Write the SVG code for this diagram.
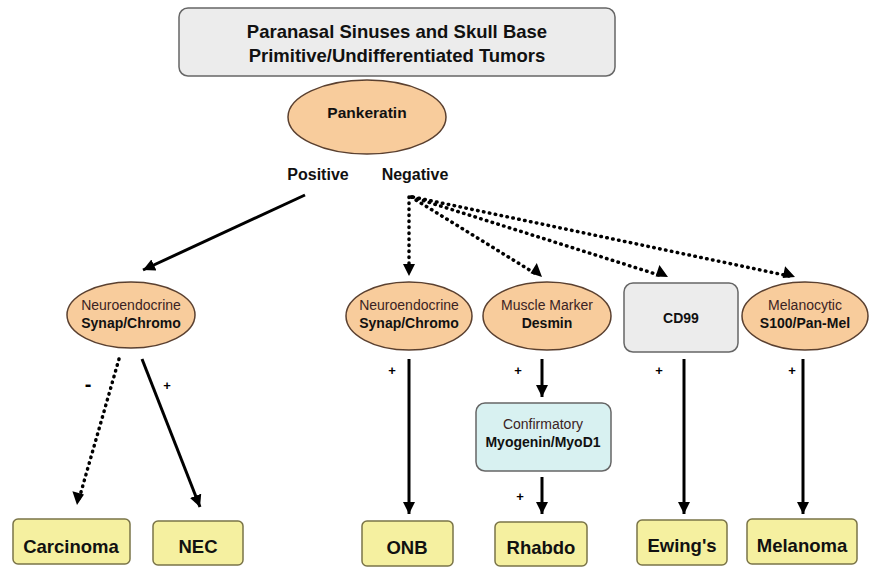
<svg xmlns="http://www.w3.org/2000/svg" width="871" height="567" viewBox="0 0 871 567">
<style>
text{font-family:"Liberation Sans",Arial,sans-serif;text-anchor:middle}
.b{font-weight:bold;fill:#111}
.r{fill:#3b2323}
.ell{fill:#f8cc9c;stroke:#5a4030;stroke-width:1.5}
.grey{fill:#ececec;stroke:#666;stroke-width:1.5}
.yel{fill:#f5f0a0;stroke:#7a7448;stroke-width:1.5}
.cy{fill:#d8f1f1;stroke:#666;stroke-width:1.5}
.s{stroke:#000;stroke-width:3;fill:none}
.d{stroke:#000;stroke-width:3.5;fill:none;stroke-dasharray:0.5 5.5;stroke-linecap:round}
.sm{font-weight:bold;fill:#000}
</style>
<defs>
<marker id="ah" markerWidth="14" markerHeight="14" refX="12" refY="6" orient="auto" markerUnits="userSpaceOnUse"><path d="M0,0 L12,6 L0,12 z" fill="#000"/></marker>
</defs>
<rect width="871" height="567" fill="#fff"/>
<g id="title"><rect class="grey" x="179" y="8" width="436" height="68" rx="9"/>
<text class="b" x="397" y="38" font-size="18.5">Paranasal Sinuses and Skull Base</text>
<text class="b" x="397" y="62" font-size="18.5">Primitive/Undifferentiated Tumors</text></g>
<g id="pankeratin"><ellipse class="ell" cx="367" cy="117" rx="79" ry="37"/>
<text class="b" x="367" y="118" font-size="15.5">Pankeratin</text></g>
<g id="labels"><text class="b" x="318" y="180" font-size="16">Positive</text>
<text class="b" x="415" y="180" font-size="16">Negative</text></g>
<g id="ne-left"><ellipse class="ell" cx="131" cy="315" rx="64" ry="33"/>
<text class="r" x="131" y="310" font-size="14">Neuroendocrine</text>
<text class="b" x="131" y="328" font-size="14">Synap/Chromo</text></g>
<g id="ne-mid"><ellipse class="ell" cx="409" cy="316" rx="63" ry="34"/>
<text class="r" x="409" y="310" font-size="14">Neuroendocrine</text>
<text class="b" x="409" y="328" font-size="14">Synap/Chromo</text></g>
<g id="desmin"><ellipse class="ell" cx="547" cy="316" rx="64" ry="34"/>
<text class="r" x="547" y="310" font-size="14">Muscle Marker</text>
<text class="b" x="547" y="328" font-size="14">Desmin</text></g>
<g id="cd99"><rect class="grey" x="624" y="283" width="114" height="69" rx="9"/>
<text class="b" x="681" y="323" font-size="14">CD99</text></g>
<g id="melanocytic"><ellipse class="ell" cx="805" cy="316" rx="63" ry="34"/>
<text class="r" x="805" y="310" font-size="14">Melanocytic</text>
<text class="b" x="805" y="328" font-size="14">S100/Pan-Mel</text></g>
<g id="confirmatory"><rect class="cy" x="476" y="403" width="135" height="68" rx="9"/>
<text class="r" x="543" y="429" font-size="14">Confirmatory</text>
<text class="b" x="543" y="447" font-size="14">Myogenin/MyoD1</text></g>
<g id="carcinoma"><rect class="yel" x="13" y="519" width="117" height="45" rx="5"/><text class="b" x="71" y="553" font-size="18.5">Carcinoma</text></g>
<g id="nec"><rect class="yel" x="153" y="521" width="90" height="44" rx="5"/><text class="b" x="198" y="553" font-size="18.5">NEC</text></g>
<g id="onb"><rect class="yel" x="362" y="521" width="91" height="45" rx="5"/><text class="b" x="407" y="554" font-size="18.5">ONB</text></g>
<g id="rhabdo"><rect class="yel" x="495" y="522" width="92" height="44" rx="5"/><text class="b" x="541" y="554" font-size="18.5">Rhabdo</text></g>
<g id="ewings"><rect class="yel" x="637" y="520" width="90" height="45" rx="5"/><text class="b" x="682" y="552" font-size="18.5">Ewing's</text></g>
<g id="melanoma"><rect class="yel" x="747" y="519" width="110" height="45" rx="5"/><text class="b" x="802" y="552" font-size="18.5">Melanoma</text></g>
<g id="connectors">
<line class="s" x1="305" y1="195" x2="143" y2="270" marker-end="url(#ah)"/>
<line class="d" x1="409" y1="197" x2="409" y2="270"/>
<line class="d" x1="411" y1="197" x2="536" y2="274"/>
<line class="d" x1="412" y1="197" x2="662" y2="276"/>
<line class="d" x1="413" y1="197" x2="789" y2="276"/>
<line class="d" x1="119" y1="359" x2="79" y2="499"/>
<path d="M409,276 l-6,-12 h12 z M542,277 l-11.5,-3.7 l6.3,-10.3 z M668,277 l-12.4,-0.6 l3.8,-11.5 z M795,277 l-12.3,1 l2.4,-11.8 z M77,505 l-4.6,-13.7 l11.6,3.3 z"/>
<line class="s" x1="142" y1="359" x2="200" y2="507" marker-end="url(#ah)"/>
<line class="s" x1="409" y1="359" x2="409" y2="514" marker-end="url(#ah)"/>
<line class="s" x1="542" y1="359" x2="542" y2="397" marker-end="url(#ah)"/>
<line class="s" x1="542" y1="477" x2="542" y2="514" marker-end="url(#ah)"/>
<line class="s" x1="684" y1="359" x2="684" y2="514" marker-end="url(#ah)"/>
<line class="s" x1="803" y1="359" x2="803" y2="514" marker-end="url(#ah)"/>
<text class="sm" x="88" y="391" font-size="20">-</text>
<text class="sm" x="167" y="390" font-size="13">+</text>
<text class="sm" x="392" y="375" font-size="13">+</text>
<text class="sm" x="518" y="375" font-size="13">+</text>
<text class="sm" x="520" y="501" font-size="13">+</text>
<text class="sm" x="659" y="375" font-size="13">+</text>
<text class="sm" x="792" y="375" font-size="13">+</text>
</g>
</svg>
